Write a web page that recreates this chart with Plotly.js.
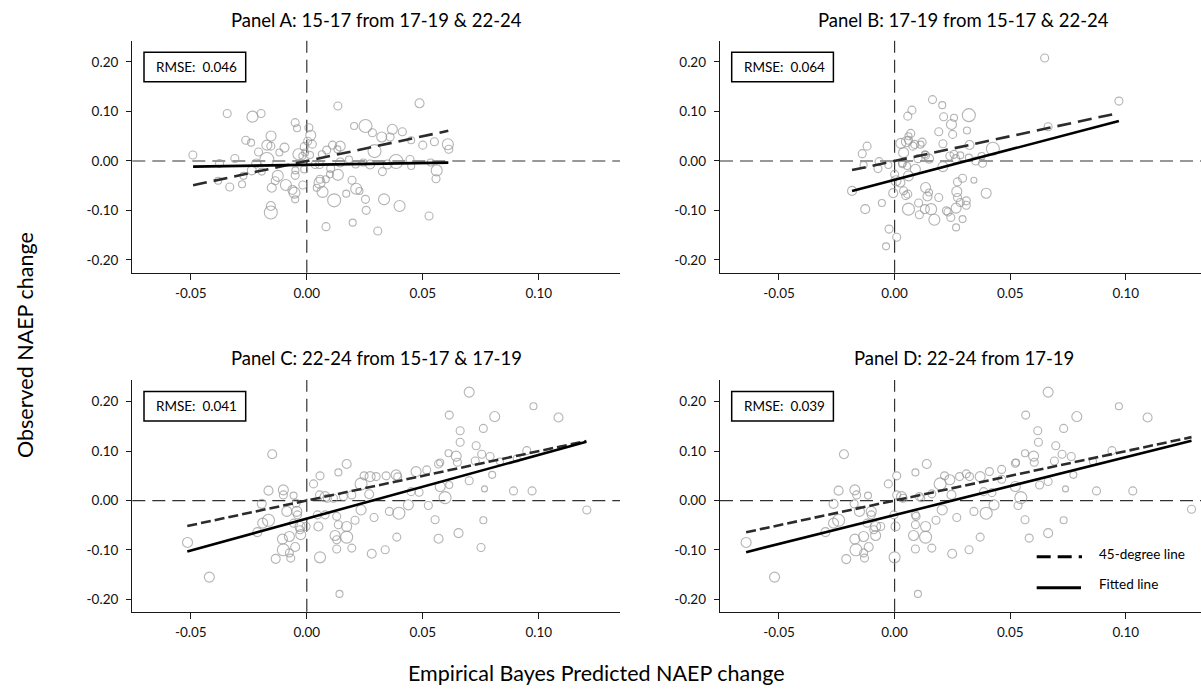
<!DOCTYPE html>
<html>
<head>
<meta charset="utf-8">
<script src="https://cdn.plot.ly/plotly-3.0.1.min.js"></script>
<style>html,body{margin:0;padding:0;background:#fff;}#chart{width:1201px;height:696px;}</style>
</head>
<body>
<div id="chart"></div>
<script>
// ---------------- DATA ----------------
const panelTitles = ["Panel A: 15-17 from 17-19 & 22-24", "Panel B: 17-19 from 15-17 & 22-24",
                     "Panel C: 22-24 from 15-17 & 17-19", "Panel D: 22-24 from 17-19"];
const rmseValues = ["0.046", "0.064", "0.041", "0.039"];
const xTickVals = [-0.05, 0, 0.05, 0.10];
const xTickText = ["-0.05", "0.00", "0.05", "0.10"];
const yTickVals = [-0.2, -0.1, 0, 0.1, 0.2];
const yTickText = ["-0.20", "-0.10", "0.00", "0.10", "0.20"];

// Panel A
const aX = [-0.0491,-0.0343,-0.0234,-0.0197,-0.0263,-0.024,-0.0154,-0.0172,-0.0155,-0.0208,
  -0.0118,-0.0096,-0.031,-0.0376,-0.0382,-0.0332,-0.0279,-0.0273,-0.0237,-0.0218,
  -0.0194,-0.0172,-0.0125,-0.0136,-0.0151,-0.009,-0.0053,-0.0062,-0.005,-0.005,
  -0.0049,-0.0017,-0.0155,-0.0155,-0.005,-0.0042,-0.0036,-0.0011,-0.0007,0.0009,
  0.0017,0.0004,0.0024,-0.0011,0.0036,0.0065,0.0086,0.0111,0.0144,0.0132,
  0.0134,0.0204,0.0253,0.0283,0.0323,0.0369,0.0359,0.0412,0.045,0.0486,
  0.050,0.055,0.0608,0.0612,0.0292,0.0182,0.0244,0.0273,0.0348,0.0385,
  0.0445,0.045,0.0534,0.056,0.0557,0.0326,0.0211,0.0144,0.0103,0.0134,
  0.0055,0.0057,0.0055,0.0082,0.0043,0.0068,0.0118,0.017,0.0195,0.0213,
  0.0227,0.0253,0.0256,0.0333,0.040,0.0083,0.0198,0.0306,0.0527,0.0014,
  -0.0019,0.010];
const aY = [0.012,0.096,0.0896,0.096,0.042,0.037,0.0505,0.032,0.030,0.018,
  0.017,0.027,0.005,-0.005,-0.040,-0.0525,-0.047,-0.030,-0.019,-0.005,
  -0.0215,0.003,-0.030,-0.040,-0.054,-0.0485,-0.064,-0.0585,-0.0775,-0.029,
  -0.019,-0.0485,-0.091,-0.104,0.0775,0.066,0.0135,0.029,0.017,0.067,
  0.052,0.040,0.034,-0.017,-0.007,0.0135,0.022,0.032,0.030,0.0235,
  0.111,0.0707,0.0707,0.057,0.0485,0.064,0.0485,0.059,0.042,0.1165,
  0.032,0.039,0.0337,0.0236,0.020,0.003,-0.003,-0.007,-0.007,-0.001,
  0.003,-0.010,-0.003,-0.019,-0.036,-0.0215,-0.007,-0.003,-0.015,-0.028,
  -0.007,-0.037,-0.044,-0.037,-0.054,-0.0625,-0.0795,-0.066,-0.039,-0.056,
  -0.0606,-0.0775,-0.0997,-0.0775,-0.091,-0.1327,-0.1246,-0.1414,-0.111,0.012,
  0.010,-0.027];
const aW = [8,8,11,8,8,7,10,10,8,8, 7,9,8,8,7,8,7,7,9,9, 7,14,11,8,9,11,11,9,7,8,
  7,8,9,13,8,7,11,8,7,8, 10,8,8,7,8,7,8,8,10,7, 8,7,13,8,10,10,8,8,7,9,
  8,8,11,8,13,7,7,9,9,14, 8,7,7,11,8,8,7,9,8,11, 8,8,11,7,7,11,13,7,8,11,
  7,8,8,11,11,8,7,8,8,7, 7,7];

// Panel B
const bX = [-0.0184,-0.014,-0.0119,-0.0127,-0.0134,-0.0067,-0.0072,-0.0055,-0.0027,-0.0024,
  -0.0037,0.0009,-0.0006,0,0.0006,0.0027,0.0039,0.0034,0.0057,0.0075,
  0.006,0.007,0.006,0.0079,0.0051,0.0119,0.0112,0.0134,0.0149,0.0101,
  0.009,0.006,0.0025,0.0039,0.0048,0.0057,0.006,0.0104,0.0107,0.0134,
  0.0142,0.0149,0.0131,0.0158,0.0172,0.0191,0.0164,0.0206,0.0191,0.0212,
  0.0209,0.0257,0.0246,0.0251,0.0321,0.0313,0.0324,0.0209,0.0239,0.0257,
  0.0284,0.0264,0.0272,0.0294,0.0269,0.0272,0.0284,0.031,0.031,0.0266,
  0.0224,0.0231,0.0243,0.0266,0.0294,0.0343,0.0351,0.038,0.0376,0.0396,
  0.0425,0.0664,0.0649,0.097,0.0087,0.0131,0.0054,0.0033,0.0321];
const bY = [-0.0604,0.0148,0.030,-0.0973,-0.008,-0.0013,-0.0154,-0.085,-0.008,-0.1376,
  -0.1725,-0.154,-0.065,-0.027,-0.040,0.0356,0.0168,-0.0034,0.0906,0.1027,
  0.050,0.0557,0.042,0.030,0.039,0.038,0.033,0.0114,0.0047,0.0047,
  -0.0168,-0.030,-0.0436,-0.060,-0.070,-0.067,-0.0973,-0.085,-0.1087,-0.0537,
  -0.0718,-0.0637,-0.0973,-0.0973,-0.1188,-0.0738,0.124,0.1128,0.059,0.0893,
  0.0349,0.0872,0.0738,0.0537,0.0926,0.0617,0.0322,-0.0114,0.010,0.0134,
  0.0114,0.0047,-0.0423,-0.035,-0.0617,-0.0738,-0.084,-0.0805,-0.0893,-0.0953,
  -0.1007,-0.103,-0.114,-0.1342,-0.1174,-0.039,0,-0.0047,0.010,-0.0651,
  0.0248,0.0691,0.208,0.121,0.0335,0.0134,-0.010,-0.0067,0.0067];
const bW = [9,8,8,9,7,8,8,7,7,8, 7,8,9,8,10,10,10,8,8,8, 7,8,8,8,10,8,7,8,9,8,
  10,10,9,8,8,8,12,8,8,10, 9,7,9,11,11,8,8,7,8,8, 8,7,10,8,13,7,9,10,8,8,
  7,8,8,8,10,8,8,8,8,10, 8,8,8,7,7,6,8,8,7,10, 13,8,8,8,8,7,7,7,7];

// Panel C
const cX = [-0.0514,-0.042,-0.0149,-0.0165,-0.0194,-0.0213,-0.019,-0.0165,-0.0134,-0.0101,
  -0.0101,-0.0086,-0.0105,-0.0101,-0.0075,-0.0069,-0.005,-0.0075,-0.0057,-0.0046,
  -0.0043,-0.004,-0.0057,-0.0029,-0.0029,-0.0026,-0.0003,0.0029,0.0057,0.0055,
  0.0079,0.0089,0.0046,0.005,0.0057,0.0079,0.0115,0.0136,0.0172,0.0158,
  0.0194,0.0129,0.0136,0.0172,0.0172,0.0122,0.0129,0.0129,0.0194,0.0141,
  0.0208,0.0234,0.0234,0.0247,0.0273,0.0299,0.0269,0.029,0.028,0.0342,
  0.0385,0.0392,0.0356,0.0397,0.0388,0.0338,0.0438,0.045,0.0484,0.0471,
  0.0517,0.0524,0.0553,0.0568,0.0568,0.0575,0.0575,0.0596,0.0611,0.0614,
  0.0614,0.0644,0.0649,0.0661,0.0661,0.0654,0.070,0.070,0.073,0.0726,
  0.0754,0.0761,0.081,0.079,0.0799,0.0766,0.0761,0.0751,0.0891,0.0948,
  0.0971,0.0977,0.0905,0.1085,0.0833,0.1207];
const cY = [-0.0848,-0.155,0.0936,0.020,-0.0067,-0.064,-0.0458,-0.040,-0.118,0.0215,
  0.0114,-0.022,-0.078,-0.0997,-0.106,-0.1165,-0.094,-0.0727,0.010,-0.0054,
  -0.022,-0.029,-0.0458,-0.0525,-0.059,-0.069,-0.0525,0.0337,0.050,0.0114,
  0.008,0.0047,-0.029,-0.0525,-0.115,-0.029,0.0047,0.057,0.074,0.008,
  0.0114,-0.032,-0.049,-0.0525,-0.074,-0.0707,-0.0795,-0.098,-0.0963,-0.189,
  -0.040,-0.019,0.0337,0.050,0.0485,0.0485,0.0128,-0.0343,-0.1077,0.050,
  0.052,0.048,-0.022,-0.0256,-0.074,-0.0997,-0.0088,0.018,0.0168,0.0586,
  0.062,-0.010,-0.039,-0.0774,0.074,0.077,0.0283,0.006,0.0956,0.173,
  0.0316,0.090,0.0774,0.1414,0.118,-0.066,0.2195,0.040,0.111,0.080,
  0.0936,0.146,0.170,0.089,0.052,0.0236,-0.040,-0.095,0.0195,0.101,
  0.0195,0.191,0.085,0.168,0.079,-0.019];
const cW = [10,10,9,9,9,9,10,12,9,10, 8,10,10,12,8,8,9,10,7,8, 10,8,8,10,8,10,8,8,8,8,
  10,8,8,9,11,8,8,7,9,8, 8,8,8,10,12,10,8,8,8,7, 8,10,12,8,10,8,9,8,9,8,
  10,8,8,12,8,8,10,8,8,10, 8,8,8,9,8,7,10,12,7,8, 7,10,8,8,8,9,10,8,8,8,
  8,8,10,8,7,6,7,8,8,8, 8,7,7,9,7,8];

// Panel D
const dX = [-0.0642,-0.0519,-0.0219,-0.0242,-0.0264,-0.0299,-0.0264,-0.0242,-0.0209,-0.0172,
  -0.0164,-0.0152,-0.0172,-0.0167,-0.0134,-0.013,-0.0112,-0.0134,-0.0115,-0.0175,
  -0.0101,-0.0101,-0.0119,-0.0082,-0.0090,-0.0082,-0.006,-0.0027,0.0009,0.0009,
  0.003,0.0037,-0.0003,0.0004,0,0.009,0.0107,0.0139,0.009,0.0161,
  0.0115,0.0093,0.009,0.0134,0.0134,0.0082,0.009,0.0161,0.0101,0.0179,
  0.0206,0.0197,0.0216,0.0239,0.0281,0.0246,0.0269,0.0249,0.031,0.0324,
  0.037,0.041,0.0343,0.0396,0.037,0.0322,0.043,0.0385,0.0421,0.0463,
  0.0463,0.0534,0.0564,0.0582,0.0522,0.0525,0.0522,0.0546,0.0564,0.0567,
  0.0627,0.0601,0.0604,0.0619,0.0622,0.0664,0.0664,0.0664,0.0697,0.0691,
  0.0724,0.0731,0.0788,0.0764,0.0773,0.0739,0.0731,0.0873,0.094,0.103,
  0.097,0.1094,0.1284,0.0858];
const dY = [-0.0848,-0.155,0.0936,0.020,-0.0067,-0.064,-0.0458,-0.040,-0.1185,0.0215,
  0.0114,-0.022,-0.078,-0.0997,-0.106,-0.1165,-0.094,-0.0727,0.010,-0.0067,
  -0.022,-0.029,-0.0458,-0.0525,-0.059,-0.0707,-0.0525,0.0337,0.050,0.0114,
  0.008,0.0047,-0.029,-0.0525,-0.115,-0.029,0.008,0.074,0.057,0.0135,
  0.0047,-0.032,-0.049,-0.0525,-0.074,-0.0707,-0.098,-0.0963,-0.189,-0.040,
  -0.019,0.0337,0.050,0.042,0.0485,0.0114,-0.0343,-0.1077,0.054,0.0485,
  0.0485,0.0586,-0.022,-0.0256,-0.074,-0.0997,-0.0088,0.018,0.016,0.063,
  0.043,-0.010,-0.039,-0.076,0.0754,0.077,0.0283,0.006,0.0956,0.173,
  0.0316,0.090,0.0774,0.1414,0.118,-0.066,0.2195,0.0384,0.111,0.080,
  0.0936,0.146,0.170,0.089,0.052,0.0236,-0.040,0.0195,0.101,0.0195,
  0.191,0.168,-0.0175,0.079];
const dW = [10,10,9,9,9,9,10,12,9,10, 8,10,10,12,8,8,9,10,7,8, 10,8,8,10,8,10,8,8,8,8,
  10,8,8,9,11,8,8,9,7,8, 7,8,8,10,12,10,8,8,7,8, 10,12,8,10,8,9,8,9,8,8,
  10,8,8,12,8,8,10,8,8,8, 8,8,8,8,8,7,10,12,7,8, 8,10,8,8,8,9,10,8,8,8,
  8,8,10,8,7,6,7,8,8,8, 7,9,8,7];

// Lines: 45-degree (dashed) and fitted (solid), endpoints
const lineX  = [[-0.049, 0.061], [-0.0184, 0.097], [-0.0515, 0.1205], [-0.0642, 0.1284]];
const degY   = [[-0.049, 0.061], [-0.0184, 0.097], [-0.0515, 0.1205], [-0.0642, 0.1284]];
const fitY   = [[-0.0114, -0.0033], [-0.0606, 0.0808], [-0.103, 0.119], [-0.1045, 0.1209]];
const legendLabels = ["45-degree line", "Fitted line"];
const xTitle = "Empirical Bayes Predicted NAEP change";
const yTitle = "Observed NAEP change";

// ---------------- LAYOUT ----------------
const W = 1201, H = 696;
const FONT = "Lato, 'Open Sans', sans-serif";
const px = v => v / W, py = v => 1 - v / H;

const panels = [
  {x: aX, y: aY, w: aW, xd: [132.3, 620], yd: [40.7, 272.7], xr: [-0.0752, 0.1350], yr: [-0.2257, 0.243], tx: 376.7, ty: 20},
  {x: bX, y: bY, w: bW, xd: [720, 1201], yd: [40.7, 272.7], xr: [-0.0755, 0.1325], yr: [-0.2257, 0.243], tx: 963.7, ty: 20},
  {x: cX, y: cY, w: cW, xd: [132.3, 620], yd: [380, 611.7], xr: [-0.0752, 0.1350], yr: [-0.225, 0.244], tx: 376.7, ty: 358.3},
  {x: dX, y: dY, w: dW, xd: [720, 1201], yd: [380, 611.7], xr: [-0.0755, 0.1325], yr: [-0.225, 0.244], tx: 963.7, ty: 358.3}
];

const traces = [], shapes = [], annotations = [];
const layout = {
  width: W, height: H, margin: {l: 0, r: 0, t: 0, b: 0},
  paper_bgcolor: "#fff", plot_bgcolor: "rgba(0,0,0,0)",
  showlegend: false, font: {family: FONT, color: "#111"}
};

panels.forEach((p, i) => {
  const n = i === 0 ? "" : String(i + 1);
  const xa = "x" + n, ya = "y" + n;
  const common = {showline: true, linecolor: "#1a1a1a", linewidth: 1.3, ticks: "outside",
    ticklen: 5, tickwidth: 1, tickcolor: "#1a1a1a", showgrid: false, zeroline: false,
    tickfont: {family: FONT, size: 13.5, color: "#111"}, fixedrange: true};
  layout["xaxis" + n] = Object.assign({}, common, {domain: [px(p.xd[0]), px(p.xd[1])], range: p.xr,
    anchor: ya, tickmode: "array", tickvals: xTickVals, ticktext: xTickText, ticklen: 6, ticklabelstandoff: 2});
  layout["yaxis" + n] = Object.assign({}, common, {domain: [py(p.yd[1]), py(p.yd[0])], range: p.yr,
    anchor: xa, tickmode: "array", tickvals: yTickVals, ticktext: yTickText, ticklabelstandoff: 5});

  // reference dashed lines at 0
  const refLine = {color: "#333", width: 1.2, dash: "13px,7px"};
  shapes.push({type: "line", xref: xa, yref: ya + " domain", x0: 0, x1: 0, y0: 0, y1: 1, line: refLine, layer: "below"});
  shapes.push({type: "line", xref: xa + " domain", yref: ya, x0: 0, x1: 1, y0: 0, y1: 0, line: refLine, layer: "below"});

  traces.push({type: "scatter", mode: "markers", x: p.x, y: p.y, xaxis: xa, yaxis: ya, hoverinfo: "x+y",
    marker: {symbol: "circle", size: p.w, color: "rgba(255,255,255,0)", line: {color: "#959595", width: 1.1}}});
  traces.push({type: "scatter", mode: "lines", x: lineX[i], y: degY[i], xaxis: xa, yaxis: ya,
    line: {color: "#2b2b2b", width: 2.6, dash: i < 2 ? "14px,7px" : "10px,4px"}, hoverinfo: "skip"});
  traces.push({type: "scatter", mode: "lines", x: lineX[i], y: fitY[i], xaxis: xa, yaxis: ya,
    line: {color: "#000", width: 2.6}, hoverinfo: "skip"});

  // panel title
  annotations.push({xref: "paper", yref: "paper", x: px(p.tx), y: py(p.ty), xanchor: "center", yanchor: "middle",
    text: panelTitles[i], showarrow: false, font: {family: FONT, size: 18.5, color: "#000"}});

  // RMSE box
  const bl = p.xd[0] + 11.7, bt = p.yd[0] + 11.6;
  shapes.push({type: "rect", xref: "paper", yref: "paper", x0: px(bl), x1: px(bl + 101.7), y0: py(bt + 29.4), y1: py(bt),
    line: {color: "#000", width: 1.5}, fillcolor: "#fff", layer: "above"});
  annotations.push({xref: "paper", yref: "paper", x: px(bl + 10), y: py(bt + 14.7), xanchor: "left", yanchor: "middle",
    text: "RMSE:\u00a0 " + rmseValues[i], showarrow: false, font: {family: FONT, size: 13.5, color: "#000"}});
});

// Legend (Panel D)
shapes.push({type: "line", xref: "paper", yref: "paper", x0: px(1036.7), x1: px(1082), y0: py(556.7), y1: py(556.7),
  line: {color: "#000", width: 3, dash: "14px,7px"}});
shapes.push({type: "line", xref: "paper", yref: "paper", x0: px(1036.7), x1: px(1081), y0: py(587.7), y1: py(587.7),
  line: {color: "#000", width: 3}});
annotations.push({xref: "paper", yref: "paper", x: px(1097.3), y: py(554), xanchor: "left", yanchor: "middle",
  text: legendLabels[0], showarrow: false, font: {family: FONT, size: 13.5, color: "#000"}});
annotations.push({xref: "paper", yref: "paper", x: px(1097.3), y: py(584), xanchor: "left", yanchor: "middle",
  text: legendLabels[1], showarrow: false, font: {family: FONT, size: 13.5, color: "#000"}});

// Axis titles
annotations.push({xref: "paper", yref: "paper", x: px(596), y: py(673), xanchor: "center", yanchor: "middle",
  text: xTitle, showarrow: false, font: {family: FONT, size: 21.5, color: "#000"}});
annotations.push({xref: "paper", yref: "paper", x: px(25), y: py(345), xanchor: "center", yanchor: "middle",
  text: yTitle, textangle: -90, showarrow: false, font: {family: FONT, size: 21.5, color: "#000"}});

layout.shapes = shapes;
layout.annotations = annotations;

Plotly.newPlot("chart", traces, layout, {displayModeBar: false, staticPlot: true});
</script>
</body>
</html>
